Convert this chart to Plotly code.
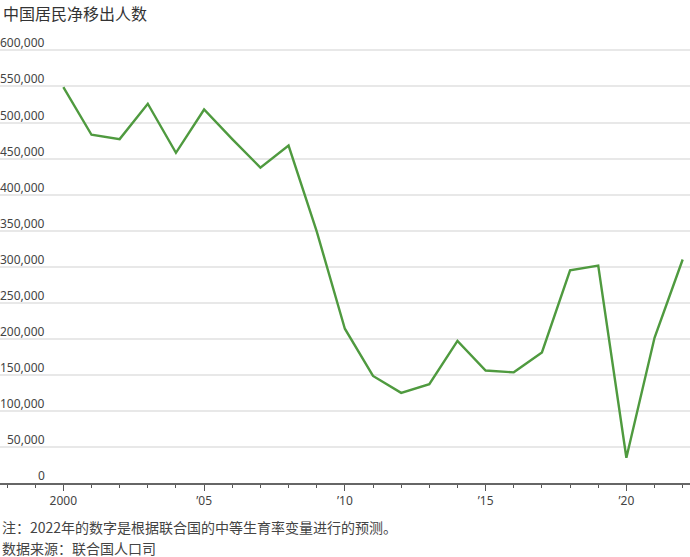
import plotly.graph_objects as go

years = list(range(2000, 2023))
net_emigration = [549000, 483000, 477000, 526000, 458000, 518000, 477000, 437500,
                  468000, 349000, 214000, 148500, 125000, 137000, 197000, 156000,
                  153500, 181000, 295000, 301500, 35000, 201500, 310000]

y_ticks = [0, 50000, 100000, 150000, 200000, 250000, 300000,
           350000, 400000, 450000, 500000, 550000, 600000]
y_tick_labels = ["0", "50,000", "100,000", "150,000", "200,000", "250,000", "300,000",
                 "350,000", "400,000", "450,000", "500,000", "550,000", "600,000"]
x_major = [2000, 2005, 2010, 2015, 2020]
x_major_labels = ["2000", "’05", "’10", "’15", "’20"]

title_text = "中国居民净移出人数"
note_text = "注：2022年的数字是根据联合国的中等生育率变量进行的预测。"
source_text = "数据来源：联合国人口司"

FONT = "Noto Sans, Noto Sans CJK SC, sans-serif"
CJK = "Noto Sans CJK SC, Noto Sans, sans-serif"

fig = go.Figure()
fig.add_trace(go.Scatter(
    x=years, y=net_emigration, mode="lines",
    line=dict(color="#4f9a3f", width=2.4),
    hoverinfo="x+y", showlegend=False,
))

fig.update_layout(
    width=690, height=557,
    margin=dict(l=0, r=0, t=36, b=74),
    paper_bgcolor="white", plot_bgcolor="white",
    font=dict(family=FONT, color="#444", size=12),
    showlegend=False,
)

fig.update_xaxes(
    range=[1997.75, 2022.26],
    tickmode="array", tickvals=x_major, ticktext=x_major_labels,
    ticks="outside", ticklen=6, tickwidth=1.3, tickcolor="#555",
    minor=dict(tickmode="linear", tick0=2000, dtick=1, ticks="outside",
               ticklen=3, tickwidth=1.3, tickcolor="#555", showgrid=False),
    showline=True, linecolor="#666", linewidth=1.6,
    showgrid=False, zeroline=False,
    tickfont=dict(family=FONT, size=12, color="#444"),
    fixedrange=True,
)

fig.update_yaxes(
    range=[0, 620000],
    tickmode="array", tickvals=y_ticks, showticklabels=False,
    showgrid=True, gridcolor="#e8e8e8", gridwidth=1.5,
    zeroline=False, showline=False, ticks="",
    fixedrange=True,
)

for v, lab in zip(y_ticks, y_tick_labels):
    fig.add_annotation(
        x=0, xref="paper", y=v, yref="y", text=lab, showarrow=False,
        xanchor="right", yanchor="bottom", xshift=47, yshift=-3,
        font=dict(family=FONT, size=12, color="#444"),
    )

fig.add_annotation(
    x=0, xref="paper", y=1, yref="paper", text=title_text, showarrow=False,
    xanchor="left", yanchor="middle", xshift=1, yshift=36 - 13,
    font=dict(family=CJK, size=16, color="#333"),
)
fig.add_annotation(
    x=0, xref="paper", y=0, yref="paper", text=note_text, showarrow=False,
    xanchor="left", yanchor="middle", xshift=0, yshift=-(527 - 483),
    font=dict(family=CJK, size=14, color="#444"),
)
fig.add_annotation(
    x=0, xref="paper", y=0, yref="paper", text=source_text, showarrow=False,
    xanchor="left", yanchor="middle", xshift=0, yshift=-(548 - 483),
    font=dict(family=CJK, size=14, color="#444"),
)

fig.write_html(
    "out.html",
    config={"displayModeBar": False},
    post_script="document.body.style.margin='0';document.body.style.padding='0';",
)
